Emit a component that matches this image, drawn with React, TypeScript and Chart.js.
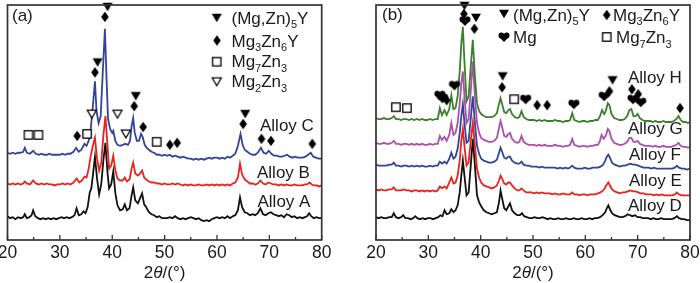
import React, { useEffect, useRef } from 'react';
import { Chart, registerables } from 'chart.js';
Chart.register(...registerables);

type Pt = [number, number];
type Part = { t: string; sub?: boolean; it?: boolean };

const FONT = '"Liberation Sans", Arial, Helvetica, sans-serif';

const xMin = 20;
const xMax = 80;
const majorTicks = [20, 30, 40, 50, 60, 70, 80];
const minorTicks = [25, 35, 45, 55, 65, 75];

// ---------- Panel (a) ----------
const alloyA: Pt[] = [[20,24],[20.5,22],[21,23],[21.5,21],[22,23],[22.5,22],[23,23],[23.3,26],[23.7,22],[24.2,23],[24.6,25],[24.9,30],[25.3,24],[25.8,22],[26.3,21],[26.8,22],[27.3,21],[27.8,22],[28.3,21],[28.8,22],[29.3,21],[29.8,22],[30.3,23],[30.8,22],[31.3,23],[31.8,22],[32.3,23],[32.8,25],[33.2,32],[33.6,25],[34.1,26],[34.5,29],[34.9,27],[35.3,33],[35.7,48],[36.0,52],[36.3,65],[36.7,84],[37.1,62],[37.5,46],[37.9,56],[38.3,80],[38.7,98],[39.1,68],[39.4,52],[39.8,56],[40.2,69],[40.6,47],[41.0,35],[41.5,30],[42.0,31],[42.4,36],[42.8,30],[43.3,32],[43.7,45],[44.0,53],[44.4,40],[44.9,37],[45.3,42],[45.7,47],[46.1,36],[46.5,33],[47,28],[47.5,26],[48,25],[48.5,23],[49,24],[49.5,22],[50,22],[50.5,22],[51,23],[51.5,22],[52,24],[52.5,22],[53,21],[53.5,22],[54,21],[54.5,22],[55,23],[55.5,22],[56,21],[56.5,22],[57,20],[57.5,19],[58,20],[58.5,19],[59,21],[59.5,22],[60,23],[60.5,22],[61,23],[61.5,22],[62,24],[62.5,22],[63,24],[63.5,25],[64.0,30],[64.4,43],[64.8,33],[65.3,28],[65.8,27],[66.3,25],[66.8,26],[67.3,25],[67.8,27],[68.3,32],[68.8,26],[69.3,25],[69.8,27],[70.3,28],[70.8,26],[71.3,25],[71.8,24],[72.3,25],[72.8,23],[73.3,26],[73.8,25],[74.3,23],[74.8,24],[75.3,22],[75.8,23],[76.3,22],[76.8,23],[77.2,24],[77.6,27],[78.0,24],[78.5,22],[79,23],[79.5,22],[80,22]];

const alloyB: Pt[] = [[20,57],[20.5,56],[21,57],[21.5,56],[22,57],[22.5,56],[23,57],[23.3,59],[23.7,57],[24.3,56],[24.9,60],[25.4,57],[26,56],[26.5,57],[27,56],[27.5,57],[28,56],[28.5,56],[29,55],[29.5,56],[30,56],[30.5,57],[31,56],[31.5,57],[32,56],[32.6,58],[33.2,62],[33.7,58],[34.2,60],[34.7,64],[35.1,63],[35.5,72],[35.9,85],[36.3,95],[36.7,103],[37.1,82],[37.5,70],[37.9,78],[38.3,105],[38.7,125],[39.1,95],[39.4,72],[39.8,75],[40.2,85],[40.6,70],[41.0,62],[41.5,60],[42.0,60],[42.4,63],[42.8,59],[43.3,61],[43.7,72],[44.0,78],[44.4,67],[44.9,65],[45.3,67],[45.7,70],[46.1,63],[46.5,61],[47,59],[47.5,58],[48,58],[48.5,57],[49,57],[49.5,56],[50,57],[50.5,56],[51,56],[51.5,57],[52,56],[52.5,57],[53,56],[53.5,55],[54,56],[54.5,55],[55,56],[55.5,55],[56,55],[56.5,56],[57,55],[57.5,55],[58,56],[58.5,55],[59,56],[59.5,55],[60,56],[60.5,55],[61,56],[61.5,55],[62,56],[62.5,55],[63,57],[63.5,58],[64.0,63],[64.4,77],[64.8,66],[65.3,61],[65.8,59],[66.3,57],[66.8,57],[67.3,56],[67.8,57],[68.3,60],[68.8,57],[69.3,56],[69.8,58],[70.3,57],[70.8,56],[71.3,56],[71.8,55],[72.3,56],[72.8,55],[73.3,56],[73.8,55],[74.3,55],[74.8,56],[75.3,55],[75.8,55],[76.3,55],[76.8,56],[77.2,56],[77.7,58],[78.1,56],[78.5,55],[79,55],[79.5,54],[80,55]];

const alloyC: Pt[] = [[20,88],[20.5,87],[21,88],[21.5,87],[22,88],[22.5,88],[23,89],[23.3,93],[23.7,88],[24.3,87],[24.9,90],[25.4,87],[26,86],[26.5,87],[27,86],[27.5,86],[28,87],[28.5,86],[29,86],[29.5,86],[30,86],[30.5,87],[31,86],[31.5,87],[32,87],[32.6,89],[33.1,93],[33.6,89],[34.1,91],[34.7,97],[35.1,95],[35.5,100],[35.9,112],[36.3,135],[36.7,160],[37.0,130],[37.4,118],[37.8,125],[38.2,170],[38.6,213],[38.9,165],[39.2,122],[39.6,112],[40.0,108],[40.2,110],[40.6,100],[41.0,96],[41.5,95],[42.0,96],[42.5,97],[43.0,96],[43.4,100],[43.7,115],[44.0,123],[44.3,108],[44.7,100],[45.1,100],[45.5,107],[45.8,104],[46.2,96],[46.6,93],[47,91],[47.5,89],[48,88],[48.5,86],[49,86],[49.5,85],[50,86],[50.5,85],[51,86],[51.5,84],[52,85],[52.5,84],[53,83],[53.5,84],[54,83],[54.5,82],[55,82],[55.5,81],[56,82],[56.5,81],[57,82],[57.5,81],[58,82],[58.5,83],[59,82],[59.5,83],[60,83],[60.5,82],[61,83],[61.5,82],[62,84],[62.5,83],[63,85],[63.5,87],[64.0,95],[64.5,107],[64.9,96],[65.3,91],[65.8,89],[66.3,87],[66.8,86],[67.3,86],[67.8,88],[68.4,93],[68.9,88],[69.4,87],[69.9,90],[70.4,87],[70.9,85],[71.4,85],[71.9,84],[72.4,84],[72.9,85],[73.4,86],[73.9,84],[74.4,83],[74.9,84],[75.4,83],[75.9,83],[76.4,83],[76.9,84],[77.4,86],[77.9,88],[78.4,84],[78.9,83],[79.4,82],[80,82]];

const aTriFilled: Pt[] = [[39.1,235],[37.2,179],[44.5,145],[65.4,127]];
const aDiamond: Pt[] = [[38.6,225],[36.7,169],[44.2,135],[45.9,114],[33.3,105],[51.0,96],[52.4,98],[65.0,117],[68.5,102],[70.3,100],[78.2,97]];
const aSquare: Pt[] = [[24.0,106],[25.9,106],[35.2,107],[48.5,99]];
const aTriOpen: Pt[] = [[36.1,127],[41.0,127],[42.6,107]];

// ---------- Panel (b) ----------
const alloyD: Pt[] = [[20,23],[20.5,22],[21,23],[21.5,22],[22,22],[22.5,23],[23,23],[23.4,27],[23.8,23],[24.3,22],[24.8,23],[25.2,25],[25.6,22],[26.1,22],[26.6,21],[27.1,22],[27.5,24],[27.9,22],[28.4,21],[28.9,22],[29.4,21],[29.9,22],[30.4,22],[30.9,21],[31.4,22],[31.9,23],[32.3,25],[32.7,24],[33.1,30],[33.5,26],[34.0,27],[34.4,31],[34.8,28],[35.2,30],[35.6,35],[36.0,48],[36.3,65],[36.6,80],[36.9,65],[37.3,45],[37.7,48],[38.1,75],[38.5,102],[38.9,75],[39.3,45],[39.7,38],[40.1,34],[40.6,30],[41.1,28],[41.6,27],[42.1,26],[42.6,27],[43.1,28],[43.5,38],[43.8,50],[44.1,42],[44.5,32],[44.9,30],[45.3,34],[45.6,37],[46.0,30],[46.5,27],[47.0,25],[47.5,25],[47.9,27],[48.3,24],[48.8,23],[49.3,22],[49.8,22],[50.3,23],[50.8,22],[51.3,22],[51.8,23],[52.3,22],[52.8,21],[53.3,22],[53.8,21],[54.3,21],[54.8,22],[55.3,21],[55.8,21],[56.3,22],[56.8,21],[57.3,21],[57.8,22],[58.3,21],[58.8,21],[59.3,22],[59.8,21],[60.3,21],[60.8,22],[61.3,21],[61.8,22],[62.3,22],[62.8,23],[63.3,25],[63.8,28],[64.1,32],[64.4,35],[64.7,31],[65.1,27],[65.6,25],[66.1,24],[66.6,23],[67.1,23],[67.6,24],[68.1,26],[68.5,25],[69.0,24],[69.5,25],[70.0,23],[70.5,23],[71.0,22],[71.5,22],[72.0,22],[72.5,21],[73.0,22],[73.5,21],[74.0,21],[74.5,22],[75.0,21],[75.5,21],[76.0,21],[76.5,21],[77.0,22],[77.5,24],[77.9,22],[78.4,21],[78.9,21],[79.4,20],[80,20]];

const alloyE: Pt[] = [[20,51],[20.5,50],[21,51],[21.5,50],[22,50],[22.5,51],[23,51],[23.4,53],[23.8,50],[24.3,50],[24.8,50],[25.3,51],[25.8,50],[26.3,50],[26.8,49],[27.3,50],[27.8,50],[28.3,49],[28.8,50],[29.3,49],[29.8,50],[30.3,49],[30.8,50],[31.3,49],[31.8,50],[32.2,54],[32.6,52],[33.1,54],[33.5,52],[34.0,58],[34.4,63],[34.8,57],[35.2,58],[35.6,65],[36.0,80],[36.3,100],[36.6,112],[36.9,95],[37.3,75],[37.7,78],[38.1,100],[38.5,118],[38.9,95],[39.3,72],[39.7,63],[40.1,58],[40.6,55],[41.1,54],[41.6,53],[42.1,52],[42.6,53],[43.1,55],[43.5,60],[43.8,65],[44.1,62],[44.5,57],[44.9,56],[45.3,58],[45.6,58],[46.0,55],[46.5,52],[47.0,50],[47.4,50],[47.8,52],[48.2,50],[48.7,48],[49.2,48],[49.7,48],[50.2,47],[50.7,48],[51.2,47],[51.7,48],[52.2,47],[52.7,47],[53.2,47],[53.7,46],[54.2,47],[54.7,46],[55.2,46],[55.7,47],[56.2,46],[56.7,46],[57.1,46],[57.5,48],[57.9,46],[58.4,46],[58.9,45],[59.4,46],[59.9,46],[60.4,45],[60.9,46],[61.4,46],[61.9,46],[62.4,47],[62.9,48],[63.4,50],[63.8,53],[64.1,56],[64.4,58],[64.7,55],[65.1,51],[65.6,49],[66.1,48],[66.6,47],[67.1,48],[67.6,48],[68.1,49],[68.6,50],[69.1,49],[69.6,49],[70.1,48],[70.6,47],[71.1,47],[71.6,46],[72.1,46],[72.6,46],[73.1,45],[73.6,46],[74.1,45],[74.6,46],[75.1,45],[75.6,45],[76.1,45],[76.6,45],[77.1,46],[77.5,48],[77.9,46],[78.4,45],[78.9,45],[79.4,45],[80,45]];

const alloyF: Pt[] = [[20,76],[20.5,75],[21,75],[21.5,75],[22,75],[22.5,76],[23,76],[23.4,78],[23.8,75],[24.3,75],[24.8,74],[25.3,75],[25.8,75],[26.3,74],[26.8,75],[27.3,74],[27.8,75],[28.3,74],[28.8,75],[29.3,74],[29.8,74],[30.3,75],[30.8,74],[31.3,75],[31.8,75],[32.2,79],[32.6,77],[33.1,79],[33.5,77],[34.0,82],[34.4,88],[34.8,82],[35.2,84],[35.6,92],[36.0,108],[36.3,125],[36.6,137],[36.9,118],[37.3,98],[37.7,100],[38.1,122],[38.5,145],[38.9,118],[39.3,95],[39.7,87],[40.1,82],[40.6,80],[41.1,79],[41.6,78],[42.1,78],[42.6,79],[43.1,81],[43.5,88],[43.8,93],[44.1,89],[44.5,83],[44.9,82],[45.3,84],[45.6,84],[46.0,80],[46.5,78],[47.0,77],[47.4,77],[47.8,79],[48.2,76],[48.7,75],[49.2,75],[49.7,74],[50.2,74],[50.7,74],[51.2,73],[51.7,74],[52.2,73],[52.7,73],[53.2,73],[53.7,73],[54.2,73],[54.7,72],[55.2,73],[55.7,72],[56.2,73],[56.7,72],[57.1,73],[57.5,75],[57.9,73],[58.4,72],[58.9,72],[59.4,72],[59.9,73],[60.4,72],[60.9,72],[61.4,73],[61.9,73],[62.4,73],[62.9,74],[63.4,76],[63.8,80],[64.1,84],[64.4,86],[64.7,83],[65.1,78],[65.6,76],[66.1,75],[66.6,74],[67.1,75],[67.6,75],[68.1,76],[68.6,77],[69.1,76],[69.6,76],[70.1,75],[70.6,74],[71.1,73],[71.6,73],[72.1,73],[72.6,72],[73.1,73],[73.6,72],[74.1,72],[74.6,72],[75.1,72],[75.6,72],[76.1,72],[76.6,72],[77.1,73],[77.5,75],[77.9,73],[78.4,72],[78.9,72],[79.4,71],[80,72]];

const alloyG: Pt[] = [[20,98],[20.5,97],[21,97],[21.5,98],[22,97],[22.5,97],[23,98],[23.4,100],[23.8,97],[24.3,97],[24.8,96],[25.3,97],[25.8,97],[26.3,96],[26.8,97],[27.3,96],[27.8,97],[28.3,96],[28.8,97],[29.3,96],[29.8,96],[30.3,97],[30.8,96],[31.3,97],[31.8,97],[32.2,105],[32.6,101],[33.1,104],[33.5,100],[34.0,106],[34.4,118],[34.8,106],[35.2,108],[35.6,118],[36.0,138],[36.3,158],[36.6,170],[36.9,145],[37.3,118],[37.7,122],[38.1,150],[38.5,180],[38.9,145],[39.3,118],[39.7,108],[40.1,103],[40.6,101],[41.1,100],[41.6,99],[42.1,99],[42.6,100],[43.1,103],[43.5,113],[43.8,120],[44.1,114],[44.5,105],[44.9,104],[45.3,107],[45.6,108],[46.0,102],[46.5,99],[47.0,98],[47.4,99],[47.8,105],[48.2,99],[48.7,97],[49.2,96],[49.7,96],[50.2,96],[50.7,95],[51.2,96],[51.7,95],[52.2,96],[52.7,95],[53.2,95],[53.7,95],[54.2,96],[54.7,95],[55.2,95],[55.7,94],[56.2,95],[56.7,95],[57.1,96],[57.5,102],[57.9,96],[58.4,95],[58.9,94],[59.4,95],[59.9,95],[60.4,94],[60.9,95],[61.4,95],[61.9,96],[62.4,96],[62.8,100],[63.1,106],[63.5,102],[63.9,105],[64.3,112],[64.6,110],[65.0,102],[65.5,98],[66.0,97],[66.5,96],[67.0,96],[67.5,97],[68.0,99],[68.4,103],[68.8,103],[69.2,99],[69.6,99],[70.0,100],[70.4,97],[70.9,96],[71.4,95],[71.9,95],[72.4,95],[72.9,94],[73.4,95],[73.9,94],[74.4,94],[74.9,95],[75.4,94],[75.9,94],[76.4,94],[76.9,95],[77.4,96],[77.8,98],[78.2,95],[78.7,94],[79.2,94],[79.6,93],[80,94]];

const alloyH: Pt[] = [[20,123],[20.5,122],[21,122],[21.5,123],[22,122],[22.5,122],[23,123],[23.4,125],[23.8,122],[24.3,122],[24.8,121],[25.3,122],[25.8,122],[26.3,121],[26.8,122],[27.3,121],[27.8,122],[28.3,121],[28.8,122],[29.3,121],[29.8,121],[30.3,122],[30.8,121],[31.3,122],[31.8,122],[32.2,133],[32.6,126],[33.1,131],[33.5,126],[34.0,132],[34.4,146],[34.8,132],[35.2,133],[35.6,145],[36.0,170],[36.3,198],[36.6,215],[36.9,180],[37.3,140],[37.7,145],[38.1,175],[38.5,202],[38.9,165],[39.3,138],[39.7,130],[40.1,127],[40.6,125],[41.1,124],[41.6,124],[42.1,124],[42.6,125],[43.1,128],[43.5,137],[43.8,143],[44.1,137],[44.5,129],[44.9,128],[45.3,131],[45.6,132],[46.0,127],[46.5,124],[47.0,123],[47.4,124],[47.8,130],[48.2,124],[48.7,122],[49.2,121],[49.7,121],[50.2,121],[50.7,120],[51.2,121],[51.7,120],[52.2,121],[52.7,120],[53.2,120],[53.7,120],[54.2,121],[54.7,120],[55.2,120],[55.7,119],[56.2,120],[56.7,120],[57.1,121],[57.5,128],[57.9,121],[58.4,120],[58.9,119],[59.4,120],[59.9,120],[60.4,119],[60.9,120],[61.4,120],[61.9,121],[62.4,121],[62.8,125],[63.2,131],[63.6,127],[63.9,130],[64.3,138],[64.6,136],[65.0,127],[65.5,123],[66.0,122],[66.5,121],[67.0,121],[67.5,122],[68.0,125],[68.4,131],[68.8,132],[69.2,125],[69.6,125],[70.0,127],[70.4,123],[70.9,121],[71.4,120],[71.9,120],[72.4,120],[72.9,119],[73.4,120],[73.9,119],[74.4,119],[74.9,120],[75.4,119],[75.9,119],[76.4,119],[76.9,120],[77.4,122],[77.8,125],[78.2,121],[78.7,119],[79.2,119],[79.6,118],[80,119]];

const bTriFilled: Pt[] = [[36.9,236],[39.1,224],[44.2,165],[65.2,161]];
const bDiamond: Pt[] = [[36.8,228],[38.8,213],[33.5,141],[44.1,154],[50.8,136],[52.7,136],[64.6,150],[68.9,152],[70.1,147],[78.1,133]];
const bHeart: Pt[] = [[37.0,221],[35.0,156],[32.2,146],[32.7,143],[48.6,142],[57.8,137],[63.6,145],[69.1,142],[70.6,139]];
const bSquare: Pt[] = [[23.8,134],[25.9,133],[46.4,142]];

// ---------- Text ----------
const lblMgZn5Y: Part[] = [{ t: '(Mg,Zn)' }, { t: '5', sub: true }, { t: 'Y' }];
const lblMg3Zn6Y: Part[] = [{ t: 'Mg' }, { t: '3', sub: true }, { t: 'Zn' }, { t: '6', sub: true }, { t: 'Y' }];
const lblMg7Zn3: Part[] = [{ t: 'Mg' }, { t: '7', sub: true }, { t: 'Zn' }, { t: '3', sub: true }];
const lblMg2Zn3: Part[] = [{ t: 'Mg' }, { t: '2', sub: true }, { t: 'Zn' }, { t: '3', sub: true }];
const lblMg: Part[] = [{ t: 'Mg' }];
const axisTitle: Part[] = [{ t: '2' }, { t: 'θ', it: true }, { t: '/(°)' }];

const C_BLACK = '#111111';
const C_RED = '#e8231f';
const C_BLUE = '#33439c';
const C_MAG = '#ad4fad';
const C_GREEN = '#3c7f2c';

type MarkerKind = 'tri' | 'otri' | 'dia' | 'sq' | 'heart';

function makeMarker(kind: MarkerKind): HTMLCanvasElement {
  const c = document.createElement('canvas');
  const s = 14;
  c.width = s;
  c.height = s;
  const g = c.getContext('2d') as CanvasRenderingContext2D;
  const m = s / 2;
  g.fillStyle = '#000';
  g.strokeStyle = '#000';
  g.lineJoin = 'miter';
  if (kind === 'tri') {
    g.beginPath();
    g.moveTo(m - 5, m - 4.2);
    g.lineTo(m + 5, m - 4.2);
    g.lineTo(m, m + 4.2);
    g.closePath();
    g.fill();
  } else if (kind === 'otri') {
    g.lineWidth = 1.3;
    g.beginPath();
    g.moveTo(m - 4.5, m - 3.8);
    g.lineTo(m + 4.5, m - 3.8);
    g.lineTo(m, m + 4);
    g.closePath();
    g.fillStyle = '#fff';
    g.fill();
    g.stroke();
  } else if (kind === 'dia') {
    g.beginPath();
    g.moveTo(m, m - 5.2);
    g.lineTo(m + 3.8, m);
    g.lineTo(m, m + 5.2);
    g.lineTo(m - 3.8, m);
    g.closePath();
    g.fill();
  } else if (kind === 'sq') {
    g.lineWidth = 1.3;
    g.fillStyle = '#fff';
    g.fillRect(m - 4.2, m - 4.2, 8.4, 8.4);
    g.strokeRect(m - 4.2, m - 4.2, 8.4, 8.4);
  } else {
    g.beginPath();
    g.arc(m - 2.6, m - 1.6, 2.9, 0, Math.PI * 2);
    g.arc(m + 2.6, m - 1.6, 2.9, 0, Math.PI * 2);
    g.fill();
    g.beginPath();
    g.moveTo(m - 5.4, m - 0.6);
    g.lineTo(m, m - 1.6);
    g.lineTo(m + 5.4, m - 0.6);
    g.lineTo(m, m + 5);
    g.closePath();
    g.fill();
  }
  return c;
}

function drawParts(
  ctx: CanvasRenderingContext2D,
  parts: Part[],
  x: number,
  y: number,
  size: number,
  align: 'left' | 'center' = 'left'
) {
  const subSize = Math.round(size * 0.66);
  const fonts = parts.map((p) => `${p.it ? 'italic ' : ''}${p.sub ? subSize : size}px ${FONT}`);
  const widths = parts.map((p, i) => {
    ctx.font = fonts[i];
    return ctx.measureText(p.t).width;
  });
  const total = widths.reduce((a, b) => a + b, 0);
  let cx = align === 'center' ? x - total / 2 : x;
  ctx.textAlign = 'left';
  ctx.textBaseline = 'alphabetic';
  parts.forEach((p, i) => {
    ctx.font = fonts[i];
    ctx.fillText(p.t, cx, p.sub ? y + size * 0.27 : y);
    cx += widths[i];
  });
}

type LegendItem = { kind: MarkerKind; mx: number; my: number; tx: number; ty: number; parts: Part[] };
type TextItem = { text: string; x: number; y: number };

interface PanelCfg {
  padding: { left: number; right: number; top: number; bottom: number };
  letter: TextItem;
  legend: LegendItem[];
  alloys: TextItem[];
  traces: { data: Pt[]; color: string }[];
  markers: { data: Pt[]; kind: MarkerKind }[];
}

function decorPlugin(cfg: PanelCfg, imgs: Record<MarkerKind, HTMLCanvasElement>) {
  return {
    id: 'decor',
    afterDraw(chart: any) {
      const ctx: CanvasRenderingContext2D = chart.ctx;
      const { left, right, top, bottom } = chart.chartArea;
      const xs = chart.scales.x;
      ctx.save();
      ctx.strokeStyle = '#333333';
      ctx.lineWidth = 1.7;
      ctx.strokeRect(left, top, right - left, bottom - top);
      ctx.lineWidth = 1.3;
      ctx.beginPath();
      majorTicks.forEach((v) => {
        const px = xs.getPixelForValue(v);
        ctx.moveTo(px, bottom);
        ctx.lineTo(px, bottom - 5);
      });
      minorTicks.forEach((v) => {
        const px = xs.getPixelForValue(v);
        ctx.moveTo(px, bottom);
        ctx.lineTo(px, bottom - 3);
      });
      ctx.stroke();
      ctx.fillStyle = '#1a1a1a';
      majorTicks.forEach((v) => {
        drawParts(ctx, [{ t: String(v) }], xs.getPixelForValue(v), 257.5, 17.5, 'center');
      });
      drawParts(ctx, axisTitle, (left + right) / 2, 277.5, 17, 'center');
      drawParts(ctx, [{ t: cfg.letter.text }], cfg.letter.x, cfg.letter.y, 17);
      cfg.legend.forEach((it) => {
        const im = imgs[it.kind];
        ctx.drawImage(im, it.mx - im.width / 2, it.my - im.height / 2);
        drawParts(ctx, it.parts, it.tx, it.ty, 17);
      });
      cfg.alloys.forEach((a) => drawParts(ctx, [{ t: a.text }], a.x, a.y, 17));
      ctx.restore();
    },
  };
}

function buildChart(canvas: HTMLCanvasElement, cfg: PanelCfg) {
  const imgs: Record<MarkerKind, HTMLCanvasElement> = {
    tri: makeMarker('tri'),
    otri: makeMarker('otri'),
    dia: makeMarker('dia'),
    sq: makeMarker('sq'),
    heart: makeMarker('heart'),
  };
  const n = cfg.traces.length;
  const datasets: any[] = cfg.traces.map((t, i) => ({
    data: t.data.map(([x, y]) => ({ x, y })),
    borderColor: t.color,
    borderWidth: 1.8,
    pointRadius: 0,
    tension: 0,
    fill: false,
    order: n - i + 1,
  }));
  cfg.markers.forEach((mk) => {
    datasets.push({
      data: mk.data.map(([x, y]) => ({ x, y })),
      showLine: false,
      pointStyle: imgs[mk.kind],
      pointRadius: 5,
      borderWidth: 0,
      clip: false,
      order: 0,
    });
  });
  return new Chart(canvas, {
    type: 'line',
    data: { datasets },
    options: {
      animation: false,
      responsive: false,
      events: [],
      layout: { padding: cfg.padding },
      plugins: { legend: { display: false }, tooltip: { enabled: false }, title: { display: false } },
      scales: {
        x: { type: 'linear', min: xMin, max: xMax, display: false },
        y: { type: 'linear', min: 0, max: 237, display: false },
      },
    },
    plugins: [decorPlugin(cfg, imgs)],
  } as any);
}

const panelA: PanelCfg = {
  padding: { left: 7.5, right: 28.3, top: 3, bottom: 43 },
  letter: { text: '(a)', x: 12, y: 20.5 },
  legend: [
    { kind: 'tri', mx: 216.7, my: 18, tx: 231.5, ty: 23.5, parts: lblMgZn5Y },
    { kind: 'dia', mx: 217, my: 40.5, tx: 231.5, ty: 46.5, parts: lblMg3Zn6Y },
    { kind: 'sq', mx: 216.7, my: 61.7, tx: 231.5, ty: 67, parts: lblMg7Zn3 },
    { kind: 'otri', mx: 216.7, my: 81.7, tx: 231.5, ty: 87, parts: lblMg2Zn3 },
  ],
  alloys: [
    { text: 'Alloy C', x: 260, y: 131 },
    { text: 'Alloy B', x: 257, y: 177.5 },
    { text: 'Alloy A', x: 257.5, y: 207 },
  ],
  traces: [
    { data: alloyA, color: C_BLACK },
    { data: alloyB, color: C_RED },
    { data: alloyC, color: C_BLUE },
  ],
  markers: [
    { data: aTriFilled, kind: 'tri' },
    { data: aDiamond, kind: 'dia' },
    { data: aSquare, kind: 'sq' },
    { data: aTriOpen, kind: 'otri' },
  ],
};

const panelB: PanelCfg = {
  padding: { left: 26, right: 10, top: 3, bottom: 43 },
  letter: { text: '(b)', x: 32, y: 20 },
  legend: [
    { kind: 'tri', mx: 154, my: 14, tx: 163, ty: 20.5, parts: lblMgZn5Y },
    { kind: 'dia', mx: 256.7, my: 15, tx: 263, ty: 20.5, parts: lblMg3Zn6Y },
    { kind: 'heart', mx: 154, my: 37, tx: 163, ty: 43, parts: lblMg },
    { kind: 'sq', mx: 256.7, my: 37, tx: 266, ty: 43, parts: lblMg7Zn3 },
  ],
  alloys: [
    { text: 'Alloy H', x: 278, y: 83 },
    { text: 'Alloy G', x: 278, y: 133.5 },
    { text: 'Alloy F', x: 279, y: 159.5 },
    { text: 'Alloy E', x: 279, y: 186 },
    { text: 'Alloy D', x: 278, y: 211 },
  ],
  traces: [
    { data: alloyD, color: C_BLACK },
    { data: alloyE, color: C_RED },
    { data: alloyF, color: C_BLUE },
    { data: alloyG, color: C_MAG },
    { data: alloyH, color: C_GREEN },
  ],
  markers: [
    { data: bTriFilled, kind: 'tri' },
    { data: bDiamond, kind: 'dia' },
    { data: bHeart, kind: 'heart' },
    { data: bSquare, kind: 'sq' },
  ],
};

export default function App() {
  const refA = useRef<HTMLCanvasElement>(null);
  const refB = useRef<HTMLCanvasElement>(null);
  useEffect(() => {
    document.body.style.margin = '0';
    const ca = buildChart(refA.current as HTMLCanvasElement, panelA);
    const cb = buildChart(refB.current as HTMLCanvasElement, panelB);
    return () => {
      ca.destroy();
      cb.destroy();
    };
  }, []);
  return (
    <div style={{ position: 'absolute', left: 0, top: 0, width: 700, height: 283, display: 'flex', background: '#fff' }}>
      <canvas ref={refA} width={350} height={283} style={{ display: 'block', width: 350, height: 283 }} />
      <canvas ref={refB} width={350} height={283} style={{ display: 'block', width: 350, height: 283 }} />
    </div>
  );
}
